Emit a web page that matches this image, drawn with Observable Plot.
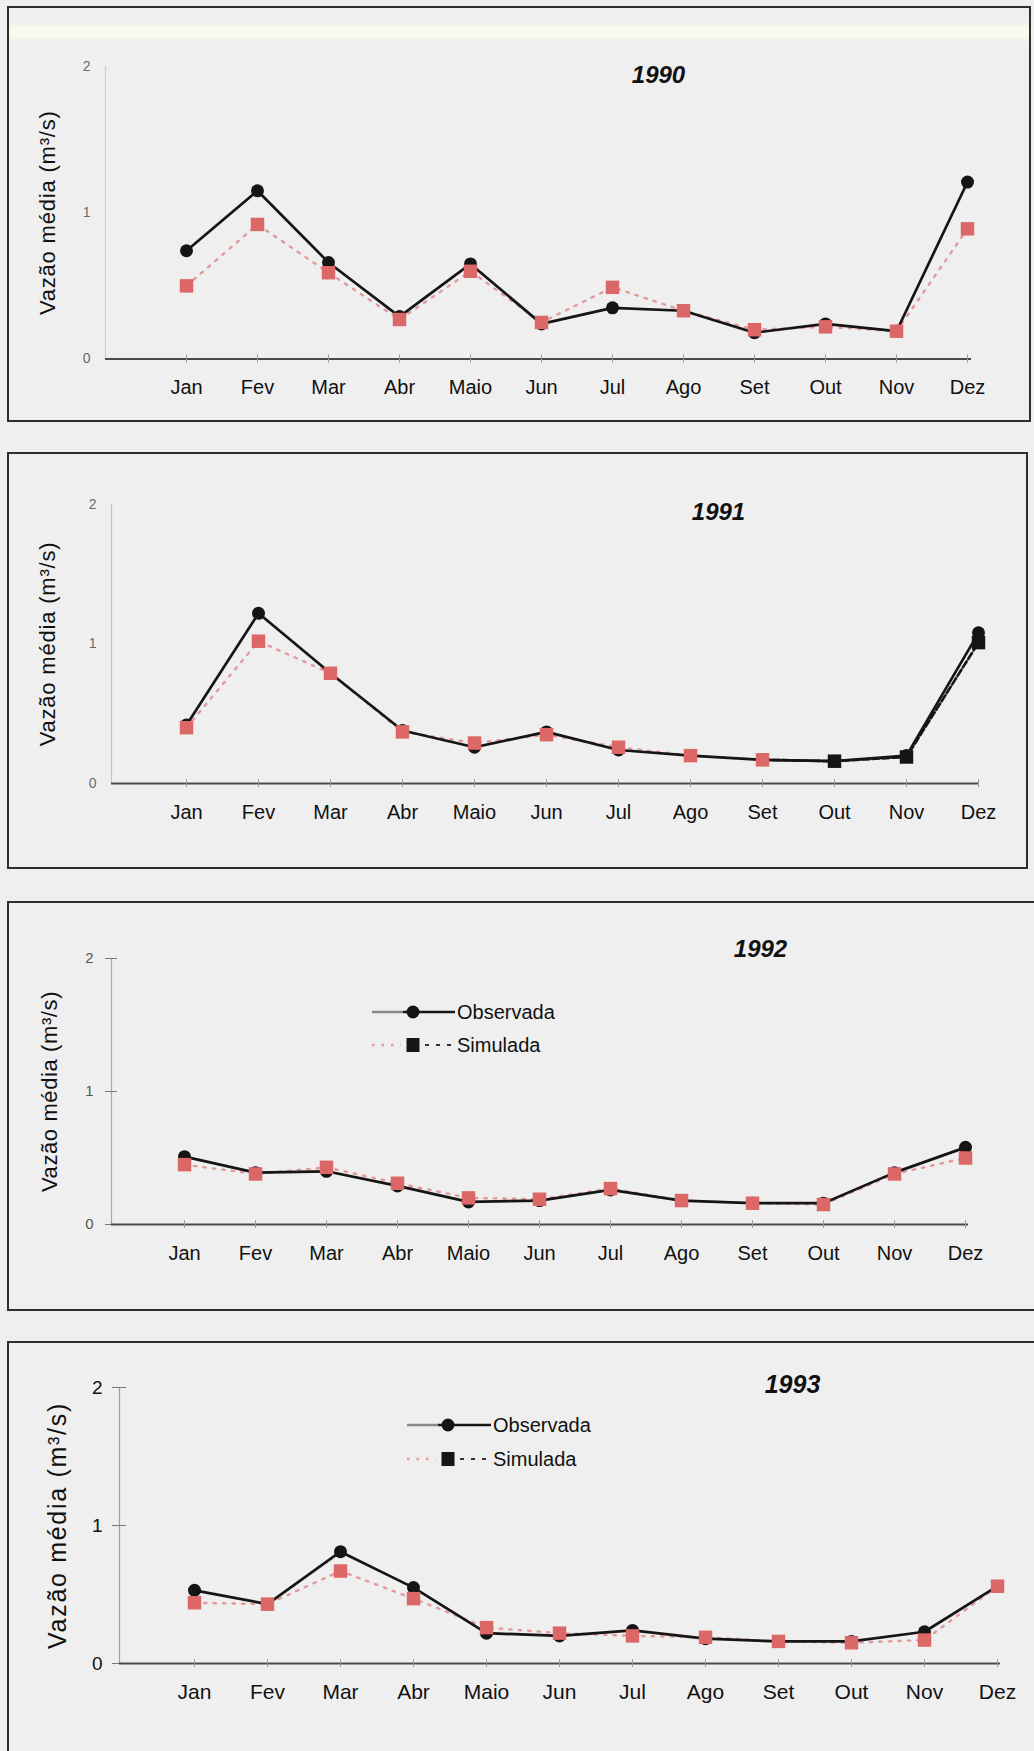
<!DOCTYPE html>
<html>
<head>
<meta charset="utf-8">
<script src="https://cdn.jsdelivr.net/npm/d3@7"></script>
<script src="https://cdn.jsdelivr.net/npm/@observablehq/plot@0.6"></script>
<style>
  html, body { margin: 0; padding: 0; background: #efefef; }
  #page {
    position: relative; width: 1034px; height: 1751px; overflow: hidden;
    background: #efefef; font-family: "Liberation Sans", Arial, sans-serif;
  }
  .box { position: absolute; border: 2px solid #2e2e2e; box-sizing: border-box; pointer-events: none; }
  .chart { position: absolute; left: 0; }
  .legend { position: absolute; left: 0; }
  .streak { position: absolute; left: 10px; top: 25px; width: 1020px; height: 14px; background: #fafaee; filter: blur(2px); }
</style>
</head>
<body>
<div id="page"></div>
<script>
// Monthly mean discharge (m³/s), observed vs simulated, 1990–1993
const months = ["Jan", "Fev", "Mar", "Abr", "Maio", "Jun", "Jul", "Ago", "Set", "Out", "Nov", "Dez"];
const yTicks = [0, 1, 2];
const yLabel = "Vazão média (m³/s)";
const seriesNames = ["Observada", "Simulada"];

const obs1990 = [0.74, 1.15, 0.66, 0.29, 0.65, 0.24, 0.35, 0.33, 0.18, 0.24, 0.19, 1.21];
const sim1990 = [0.50, 0.92, 0.59, 0.27, 0.60, 0.25, 0.49, 0.33, 0.20, 0.22, 0.19, 0.89];

const obs1991 = [0.42, 1.22, 0.79, 0.38, 0.26, 0.37, 0.24, 0.20, 0.17, 0.16, 0.20, 1.08];
const sim1991 = [0.40, 1.02, 0.79, 0.37, 0.29, 0.35, 0.26, 0.20, 0.17, 0.16, 0.19, 1.01];
// months of 1991 whose simulated points were printed in black ink
const inkedSim1991 = ["Out", "Nov", "Dez"];

const obs1992 = [0.51, 0.39, 0.40, 0.29, 0.17, 0.18, 0.26, 0.18, 0.16, 0.16, 0.39, 0.58];
const sim1992 = [0.45, 0.38, 0.43, 0.31, 0.20, 0.19, 0.27, 0.18, 0.16, 0.15, 0.38, 0.50];

const obs1993 = [0.53, 0.43, 0.81, 0.55, 0.22, 0.20, 0.24, 0.18, 0.16, 0.16, 0.23, 0.56];
const sim1993 = [0.44, 0.43, 0.67, 0.47, 0.26, 0.22, 0.20, 0.19, 0.16, 0.15, 0.17, 0.56];

// Per-panel geometry and styling (page pixels; y values are relative to the panel top)
const panels = [
  { year: "1990", obs: obs1990, sim: sim1990, inked: [],
    top: 6, height: 416, boxRight: 1031, boxBottom: true,
    y0: 352.5, y2: 60, xJan: 181, xDez: 971, axisLeft: 105,
    title: [658, 69], titleSize: 24, labelX: 47, labelSize: 22, labelSpacing: 0.8,
    tickSize: 0, tickPad: 15, tickFont: 14, tickFill: "#6a6a6a", cross: false, yLine: "#d0d0d0",
    monthFont: 20, legend: null },
  { year: "1991", obs: obs1991, sim: sim1991, inked: inkedSim1991,
    top: 452, height: 417, boxRight: 1028, boxBottom: true,
    y0: 331, y2: 52, xJan: 186, xDez: 978, axisLeft: 111,
    title: [718, 60], titleSize: 24, labelX: 47, labelSize: 22, labelSpacing: 0.8,
    tickSize: 0, tickPad: 15, tickFont: 14, tickFill: "#6a6a6a", cross: false, yLine: "#c4c4c4",
    monthFont: 20, legend: null },
  { year: "1992", obs: obs1992, sim: sim1992, inked: [],
    top: 901, height: 410, boxRight: 1040, boxBottom: true,
    y0: 323, y2: 57, xJan: 181, xDez: 968, axisLeft: 111,
    title: [760, 48], titleSize: 24, labelX: 49, labelSize: 22, labelSpacing: 0.6,
    tickSize: 6, tickPad: 12, tickFont: 15, tickFill: "#555", cross: true, yLine: "#a8a8a8",
    monthFont: 20, legend: { x: 372, y: 1012, marker: 413, text: 457, gap: 33 } },
  { year: "1993", obs: obs1993, sim: sim1993, inked: [],
    top: 1341, height: 420, boxRight: 1040, boxBottom: false,
    y0: 322, y2: 46, xJan: 191, xDez: 1000, axisLeft: 119,
    title: [792, 43], titleSize: 25, labelX: 57, labelSize: 25, labelSpacing: 1.7,
    tickSize: 7, tickPad: 10, tickFont: 19, tickFill: "#111", cross: true, yLine: "#a0a0a0",
    monthFont: 21, legend: { x: 407, y: 1425, marker: 448, text: 493, gap: 34 } }
];

const INK = "#151515";
const PINK = "#dc6767";
const PINK_LINE = "#e39a9a";

const page = document.getElementById("page");
const streak = document.createElement("div");
streak.className = "streak";
page.appendChild(streak);

for (const p of panels) {
  const rows = months.map((m, i) => ({
    month: m, obs: p.obs[i], sim: p.sim[i], inked: p.inked.includes(m)
  }));
  const firstInk = rows.findIndex(d => d.inked);
  const inkLine = firstInk > 0 ? rows.slice(firstInk - 1) : [];

  const marks = [
    Plot.frame({ anchor: "left", stroke: p.yLine, strokeWidth: 1.2 }),
    Plot.ruleY([0], { stroke: "#4a4a4a", strokeWidth: 2 }),
    Plot.axisX({
      tickSize: 8, dy: -4, tickPadding: 17, stroke: "#9a9a9a",
      fontSize: p.monthFont, fill: "#111", label: null
    }),
    Plot.axisY({
      ticks: yTicks, tickFormat: d => String(d), tickSize: p.tickSize, tickPadding: p.tickPad,
      fontSize: p.tickFont, fill: p.tickFill, stroke: "#777", label: null
    }),
    ...(p.cross ? [Plot.axisY({ ticks: yTicks.slice(1), tickSize: p.tickSize, dx: p.tickSize, tickFormat: () => "", stroke: "#777", label: null })] : []),
    // rotated axis title
    Plot.text([yLabel], {
      frameAnchor: "left", lineAnchor: "middle", rotate: -90, dx: p.labelX - p.axisLeft,
      fontSize: p.labelSize, fill: "#111", textAnchor: "middle"
    }),
    // year title
    Plot.text([p.year], {
      frameAnchor: "top-left", lineAnchor: "middle", dx: p.title[0] - p.axisLeft, dy: p.title[1] - p.y2,
      fontSize: p.titleSize, fontWeight: "bold", fontStyle: "italic", fill: "#111", textAnchor: "middle"
    }),
    // simulated (dotted) and observed (solid) series
    Plot.line(rows, { x: "month", y: "sim", stroke: PINK_LINE, strokeWidth: 2.4, strokeDasharray: "2.5,7", strokeLinecap: "round" }),
    Plot.line(rows, { x: "month", y: "obs", stroke: INK, strokeWidth: 2.7 }),
    Plot.dot(rows, { x: "month", y: "obs", r: 6.5, fill: INK, stroke: null }),
    Plot.line(inkLine, { x: "month", y: "sim", stroke: INK, strokeWidth: 2.6, strokeDasharray: "7,3" }),
    Plot.dot(rows, {
      x: "month", y: "sim", symbol: "square", r: 7.6,
      fill: d => d.inked ? INK : PINK, stroke: null
    })
  ];

  const chart = Plot.plot({
    width: 1034,
    height: p.height,
    marginLeft: p.axisLeft,
    marginRight: 1034 - p.xDez,
    marginTop: p.y2,
    marginBottom: p.height - p.y0,
    style: { background: "transparent", fontFamily: "'Liberation Sans', Arial, sans-serif", overflow: "visible" },
    x: { type: "point", domain: months, range: [p.xJan, p.xDez], padding: 0, axis: null },
    y: { domain: [0, 2], range: [p.y0, p.y2], axis: null },
    marks
  });
  // widen the tracking of the rotated axis title
  d3.select(chart).selectAll("text")
    .filter(function () { return this.textContent === yLabel; })
    .style("letter-spacing", p.labelSpacing + "px");
  chart.classList.add("chart");
  chart.style.top = p.top + "px";
  page.appendChild(chart);

  // panel border
  const box = document.createElement("div");
  box.className = "box";
  box.style.left = "7px";
  box.style.top = p.top + "px";
  box.style.width = (p.boxRight - 7) + "px";
  box.style.height = (p.boxBottom ? p.height : p.height + 40) + "px";
  page.appendChild(box);

  // legend: line + marker swatches
  if (p.legend) {
    const L = p.legend;
    const svg = d3.select(page).append("svg")
      .attr("class", "legend")
      .attr("width", 1034).attr("height", 1751)
      .style("top", "0px").style("pointer-events", "none");
    const g = svg.append("g").attr("font-family", "'Liberation Sans', Arial, sans-serif").attr("font-size", 20);
    // Observada
    g.append("line").attr("x1", L.x).attr("x2", L.marker - 10).attr("y1", L.y).attr("y2", L.y)
      .attr("stroke", "#888").attr("stroke-width", 2.5);
    g.append("line").attr("x1", L.marker - 10).attr("x2", L.text - 2).attr("y1", L.y).attr("y2", L.y)
      .attr("stroke", INK).attr("stroke-width", 2.5);
    g.append("circle").attr("cx", L.marker).attr("cy", L.y).attr("r", 6.5).attr("fill", INK);
    g.append("text").attr("x", L.text).attr("y", L.y).attr("dy", "0.35em").attr("fill", "#111").text(seriesNames[0]);
    // Simulada
    const y2 = L.y + L.gap;
    g.append("line").attr("x1", L.x).attr("x2", L.marker - 12).attr("y1", y2).attr("y2", y2)
      .attr("stroke", PINK_LINE).attr("stroke-width", 2.4).attr("stroke-dasharray", "2.5,7");
    g.append("line").attr("x1", L.marker + 12).attr("x2", L.text - 4).attr("y1", y2).attr("y2", y2)
      .attr("stroke", "#333").attr("stroke-width", 2).attr("stroke-dasharray", "4,7");
    g.append("rect").attr("x", L.marker - 6.5).attr("y", y2 - 7).attr("width", 13).attr("height", 14).attr("fill", INK);
    g.append("text").attr("x", L.text).attr("y", y2).attr("dy", "0.35em").attr("fill", "#111").text(seriesNames[1]);
  }
}
</script>
</body>
</html>
